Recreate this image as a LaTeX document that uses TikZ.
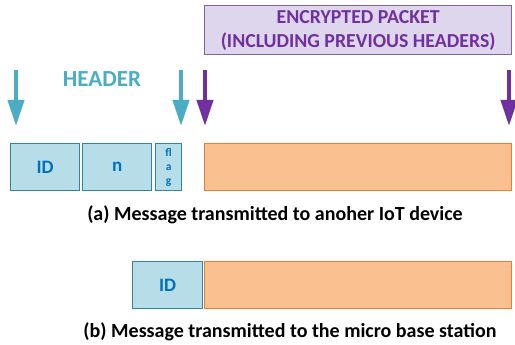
\documentclass[tikz,border=0pt]{standalone}
\usepackage{fontspec}
\setmainfont{Carlito}
\usetikzlibrary{arrows.meta}
\definecolor{hdrteal}{RGB}{75,172,198}
\definecolor{hdrfill}{RGB}{183,222,232}
\definecolor{hdrline}{RGB}{49,133,156}
\definecolor{idblue}{RGB}{0,112,192}
\definecolor{encpurple}{RGB}{112,48,160}
\definecolor{encfill}{RGB}{222,214,236}
\definecolor{encline}{RGB}{128,100,162}
\definecolor{payfill}{RGB}{250,192,144}
\definecolor{payline}{RGB}{237,125,49}
\tikzset{
  field/.style={draw=hdrline, fill=hdrfill, line width=1.3pt, anchor=north west,
    inner sep=0pt, text=idblue, font=\bfseries\fontsize{19}{22}\selectfont},
  payload/.style={draw=payline, fill=payfill, line width=1.3pt, anchor=north west, inner sep=0pt},
  marker/.style={line width=4pt, -{Triangle[length=26pt,width=16pt]}},
  caption/.style={font=\bfseries\fontsize{20}{23}\selectfont, text=black},
}
\begin{document}
\begin{tikzpicture}[x=1pt,y=-1pt]
\useasboundingbox (0,0) rectangle (515,345);

% encrypted part label
\node[draw=encline, fill=encfill, line width=1.3pt, anchor=north west,
  minimum width=307pt, minimum height=49pt, inner sep=0pt, text=encpurple,
  align=center, font=\bfseries\fontsize{19.8}{24}\selectfont] (enc) at (204,5)
  {ENCRYPTED PACKET\\(INCLUDING PREVIOUS HEADERS)};

\node[text=hdrteal, font=\bfseries\fontsize{23}{26}\selectfont] (hdr) at (102,79) {HEADER};

% (a) message to another IoT device
\node[field, minimum width=69pt, minimum height=47pt] (ida) at (10,143) {ID};
\node[field, minimum width=69pt, minimum height=47pt] (n) at (82,143) {n};
\node[field, minimum width=26pt, minimum height=47pt, align=center,
  font=\bfseries\fontsize{11.5}{14}\selectfont] (flag) at (155,143) {fl\\a\\g};
\node[payload, minimum width=307pt, minimum height=47pt] (paya) at (204,143) {};

% span markers
\coordinate (h1s) at (16,70);  \coordinate (h1e) at (16,126);
\coordinate (h2s) at (181,70); \coordinate (h2e) at (181,126);
\coordinate (e1s) at (205,70); \coordinate (e1e) at (205,126);
\coordinate (e2s) at (509,70); \coordinate (e2e) at (509,126);
\draw[marker, hdrteal] (h1s) -- (h1e);
\draw[marker, hdrteal] (h2s) -- (h2e);
\draw[marker, encpurple] (e1s) -- (e1e);
\draw[marker, encpurple] (e2s) -- (e2e);

\node[caption] (capa) at (275,215) {(a) Message transmitted to anoher IoT device};

% (b) message to the micro base station
\node[field, minimum width=70pt, minimum height=47pt] (idb) at (132,261) {ID};
\node[payload, minimum width=307pt, minimum height=47pt] (payb) at (204,261) {};

\node[caption] (capb) at (290,332) {(b) Message transmitted to the micro base station};
\end{tikzpicture}
\end{document}
